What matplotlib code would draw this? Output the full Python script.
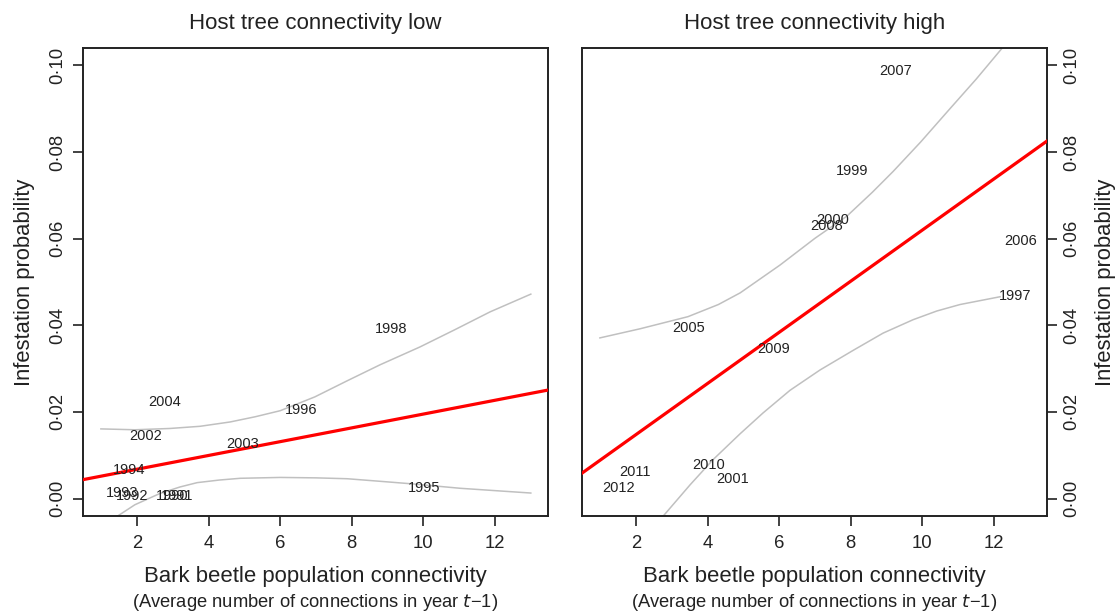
import matplotlib
matplotlib.use("Agg")
import matplotlib.pyplot as plt
from matplotlib.ticker import FuncFormatter

plt.rcParams['font.family'] = ['Liberation Sans', 'DejaVu Sans']

# ---------------- data ----------------
panel_titles = ["Host tree connectivity low", "Host tree connectivity high"]
x_ticks = [2, 4, 6, 8, 10, 12]
y_ticks = [0.00, 0.02, 0.04, 0.06, 0.08, 0.10]

# fitted line (value at x = 1 and x = 13)
fit_x = [1, 13]
fit_low = [0.0052, 0.0243]
fit_high = [0.0089, 0.0797]

# confidence bands, low host connectivity
ci_low_upper_x = [0.99, 1.94, 2.92, 3.76, 4.60, 5.30, 6.00, 6.97, 7.87, 8.79, 9.90, 10.88, 11.86, 13.0]
ci_low_upper_y = [0.0161, 0.0159, 0.0162, 0.0167, 0.0177, 0.0189, 0.0203, 0.0235, 0.0272,
                  0.0309, 0.0350, 0.0390, 0.0431, 0.0472]
ci_low_lower_x = [1.44, 1.94, 2.64, 3.20, 3.68, 4.30, 4.88, 6.00, 7.00, 7.87, 8.80, 9.71, 11.02, 13.0]
ci_low_lower_y = [-0.0041, -0.0014, 0.0012, 0.0027, 0.0037, 0.0043, 0.0047, 0.0049, 0.0048,
                  0.0046, 0.0040, 0.0034, 0.0024, 0.0013]

# confidence bands, high host connectivity
ci_high_upper_x = [0.99, 2.11, 3.45, 4.30, 4.91, 6.02, 7.00, 7.89, 8.60, 9.18, 9.95, 10.77, 11.50, 12.22, 13.0]
ci_high_upper_y = [0.0371, 0.0392, 0.0420, 0.0448, 0.0475, 0.0539, 0.0601, 0.0652, 0.0707, 0.0755,
                   0.0823, 0.0900, 0.0968, 0.1039, 0.1110]
ci_high_lower_x = [2.75, 3.51, 4.15, 4.91, 5.55, 6.30, 7.14, 8.06, 8.90, 9.74, 10.40, 11.05, 12.17]
ci_high_lower_y = [-0.0041, 0.0032, 0.0090, 0.0150, 0.0198, 0.0250, 0.0297, 0.0342, 0.0382,
                   0.0413, 0.0433, 0.0448, 0.0466]

# yearly observations (label, x, y)
years_low = ["2004", "2002", "1994", "1993", "1992", "1990", "1991", "2003", "1996", "1998", "1995"]
x_low = [2.78, 2.25, 1.78, 1.58, 1.86, 2.97, 3.11, 4.94, 6.58, 9.10, 10.03]
y_low = [0.0224, 0.0145, 0.0067, 0.0014, 0.0006, 0.0006, 0.0006, 0.0127, 0.0205, 0.0392, 0.0025]

years_high = ["2007", "1999", "2000", "2008", "2006", "1997", "2005", "2009", "2010", "2001", "2011", "2012"]
x_high = [9.25, 8.05, 7.49, 7.32, 12.75, 12.60, 3.46, 5.83, 4.03, 4.70, 1.97, 1.50]
y_high = [0.0986, 0.0756, 0.0643, 0.0629, 0.0594, 0.0468, 0.0394, 0.0346, 0.0078, 0.0046, 0.0062, 0.0025]

# ---------------- figure ----------------
fig = plt.figure(figsize=(11.17, 6.12), dpi=100)
ax_l = fig.add_axes([83 / 1117, 1 - 516 / 612, 465 / 1117, 468 / 612])
ax_r = fig.add_axes([582 / 1117, 1 - 516 / 612, 465 / 1117, 468 / 612])

dot_fmt = FuncFormatter(lambda v, p: f"{v:.2f}".replace(".", "\u00b7"))
ink = "#222222"

panels = [
    (ax_l, fit_low, (ci_low_upper_x, ci_low_upper_y), (ci_low_lower_x, ci_low_lower_y),
     years_low, x_low, y_low, "left"),
    (ax_r, fit_high, (ci_high_upper_x, ci_high_upper_y), (ci_high_lower_x, ci_high_lower_y),
     years_high, x_high, y_high, "right"),
]

for i, (ax, fit, up, lo, yrs, xs, ys, side) in enumerate(panels):
    ax.set_xlim(0.49, 13.48)
    ax.set_ylim(-0.004, 0.104)

    ax.plot(up[0], up[1], color="#c0c0c0", lw=1.1, zorder=2, solid_joinstyle="round")
    ax.plot(lo[0], lo[1], color="#c0c0c0", lw=1.1, zorder=2, solid_joinstyle="round")
    ax.axline((fit_x[0], fit[0]), (fit_x[1], fit[1]), color="#ff0000", lw=2.3, zorder=3)

    for lab, xv, yv in zip(yrs, xs, ys):
        ax.text(xv, yv, lab, ha="center", va="center", fontsize=10.5, color=ink, zorder=4)

    for s in ax.spines.values():
        s.set_linewidth(1.4)
        s.set_color(ink)

    ax.set_xticks(x_ticks)
    ax.tick_params(axis="x", direction="out", length=7, width=1.2, pad=7,
                   labelsize=13.3, colors=ink)
    ax.set_yticks(y_ticks)
    ax.yaxis.set_major_formatter(dot_fmt)
    ax.tick_params(axis="y", direction="out", length=7, width=1.2, pad=5,
                   labelsize=13.3, colors=ink)
    for t in ax.get_yticklabels():
        t.set_rotation(90)
        t.set_va("center")

    if side == "right":
        ax.yaxis.tick_right()
        ax.yaxis.set_label_position("right")
        ax.tick_params(axis="y", labelleft=False, left=False, right=True, labelright=True)
        for t in ax.get_yticklabels():
            t.set_rotation(90)
            t.set_va("center")
            t.set_ha("left")

    ax.set_title(panel_titles[i], fontsize=16, pad=14, color=ink)
    ax.set_ylabel("Infestation probability", fontsize=15.8, labelpad=10, color=ink)
    if side == "right":
        ax.yaxis.label.set_rotation(90)

    ax.set_xlabel("Bark beetle population connectivity", fontsize=15.9, labelpad=10, color=ink)
    ax.text(0.5, -0.185, "(Average number of connections in year $\\it{t}$\u22121)",
            transform=ax.transAxes, ha="center", va="center", fontsize=13.2, color=ink)

fig.savefig("out.png", dpi=100)
